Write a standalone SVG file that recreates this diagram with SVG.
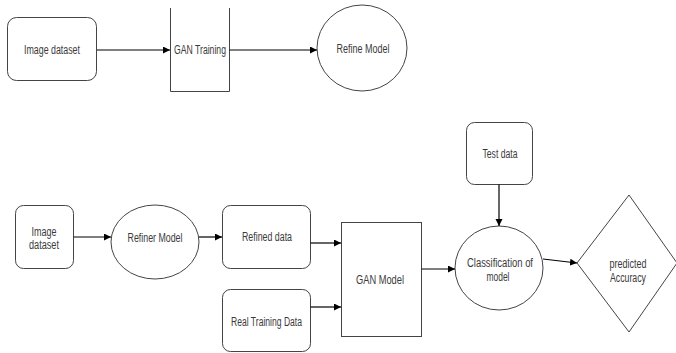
<svg xmlns="http://www.w3.org/2000/svg" width="676" height="353" viewBox="0 0 676 353">
  <defs>
    <marker id="arrow" markerUnits="userSpaceOnUse" markerWidth="8" markerHeight="8" refX="7" refY="3.5" orient="auto">
      <path d="M0,0 L7,3.5 L0,7 z" fill="#000"/>
    </marker>
    <style>
      .shape { fill: #fff; stroke: #444; stroke-width: 1; }
      .edge { fill: none; stroke: #000; stroke-width: 1.2; marker-end: url(#arrow); }
      text { font-family: "Liberation Sans", Arial, sans-serif; font-size: 12px; fill: #3a3a3a; text-anchor: middle; dominant-baseline: central; }
    </style>
  </defs>
  <rect width="676" height="353" fill="#fff"/>

  <!-- top pipeline -->
  <g id="image-dataset-top">
    <rect class="shape" x="7.5" y="17.5" width="89" height="63" rx="9"/>
    <text x="52" y="50" textLength="56" lengthAdjust="spacingAndGlyphs">Image dataset</text>
  </g>
  <g id="gan-training">
    <path class="shape" d="M170.5,8 V91.5 H229.5 V8"/>
    <text x="200" y="50" textLength="52" lengthAdjust="spacingAndGlyphs">GAN Training</text>
  </g>
  <g id="refine-model">
    <ellipse class="shape" cx="362" cy="48" rx="45" ry="43"/>
    <text x="363" y="49" textLength="53" lengthAdjust="spacingAndGlyphs">Refine Model</text>
  </g>

  <!-- bottom pipeline -->
  <g id="image-dataset">
    <rect class="shape" x="15.5" y="205.5" width="58" height="63" rx="8"/>
    <text x="44" y="232" textLength="25" lengthAdjust="spacingAndGlyphs">Image</text>
    <text x="44" y="245" textLength="30" lengthAdjust="spacingAndGlyphs">dataset</text>
  </g>
  <g id="refiner-model">
    <ellipse class="shape" cx="155" cy="242" rx="44" ry="37"/>
    <text x="155" y="238" textLength="55" lengthAdjust="spacingAndGlyphs">Refiner Model</text>
  </g>
  <g id="refined-data">
    <rect class="shape" x="222.5" y="205.5" width="88" height="63" rx="8"/>
    <text x="267" y="237" textLength="50" lengthAdjust="spacingAndGlyphs">Refined data</text>
  </g>
  <g id="real-training-data">
    <rect class="shape" x="222.5" y="289.5" width="88" height="62" rx="8"/>
    <text x="266.5" y="322" textLength="71" lengthAdjust="spacingAndGlyphs">Real Training Data</text>
  </g>
  <g id="gan-model">
    <rect class="shape" x="341.5" y="222.5" width="80" height="114"/>
    <text x="380" y="280" textLength="48" lengthAdjust="spacingAndGlyphs">GAN  Model</text>
  </g>
  <g id="test-data">
    <rect class="shape" x="466.5" y="122.5" width="66" height="62" rx="8"/>
    <text x="500" y="154" textLength="35" lengthAdjust="spacingAndGlyphs">Test data</text>
  </g>
  <g id="classification">
    <ellipse class="shape" cx="499" cy="268" rx="44" ry="42"/>
    <text x="500" y="263" textLength="66" lengthAdjust="spacingAndGlyphs">Classification of</text>
    <text x="498" y="277" textLength="23" lengthAdjust="spacingAndGlyphs">model</text>
  </g>
  <g id="predicted-accuracy">
    <path class="shape" d="M577,263 L629,195 L677,263 L629,332 Z"/>
    <text x="628" y="264" textLength="37" lengthAdjust="spacingAndGlyphs">predicted</text>
    <text x="628" y="278" textLength="36" lengthAdjust="spacingAndGlyphs">Accuracy</text>
  </g>

  <g id="connectors">
    <line class="edge" x1="97" y1="50" x2="170" y2="50"/>
    <line class="edge" x1="229.5" y1="50" x2="317" y2="50"/>
    <line class="edge" x1="73.5" y1="237" x2="111" y2="237"/>
    <line class="edge" x1="199" y1="237" x2="222" y2="237"/>
    <line class="edge" x1="310.5" y1="243" x2="341" y2="243"/>
    <line class="edge" x1="310.5" y1="307" x2="341" y2="307"/>
    <line class="edge" x1="421.5" y1="269" x2="455" y2="269"/>
    <line class="edge" x1="499" y1="184.5" x2="499" y2="226"/>
    <line class="edge" x1="543" y1="259" x2="577" y2="263"/>
  </g>
</svg>
